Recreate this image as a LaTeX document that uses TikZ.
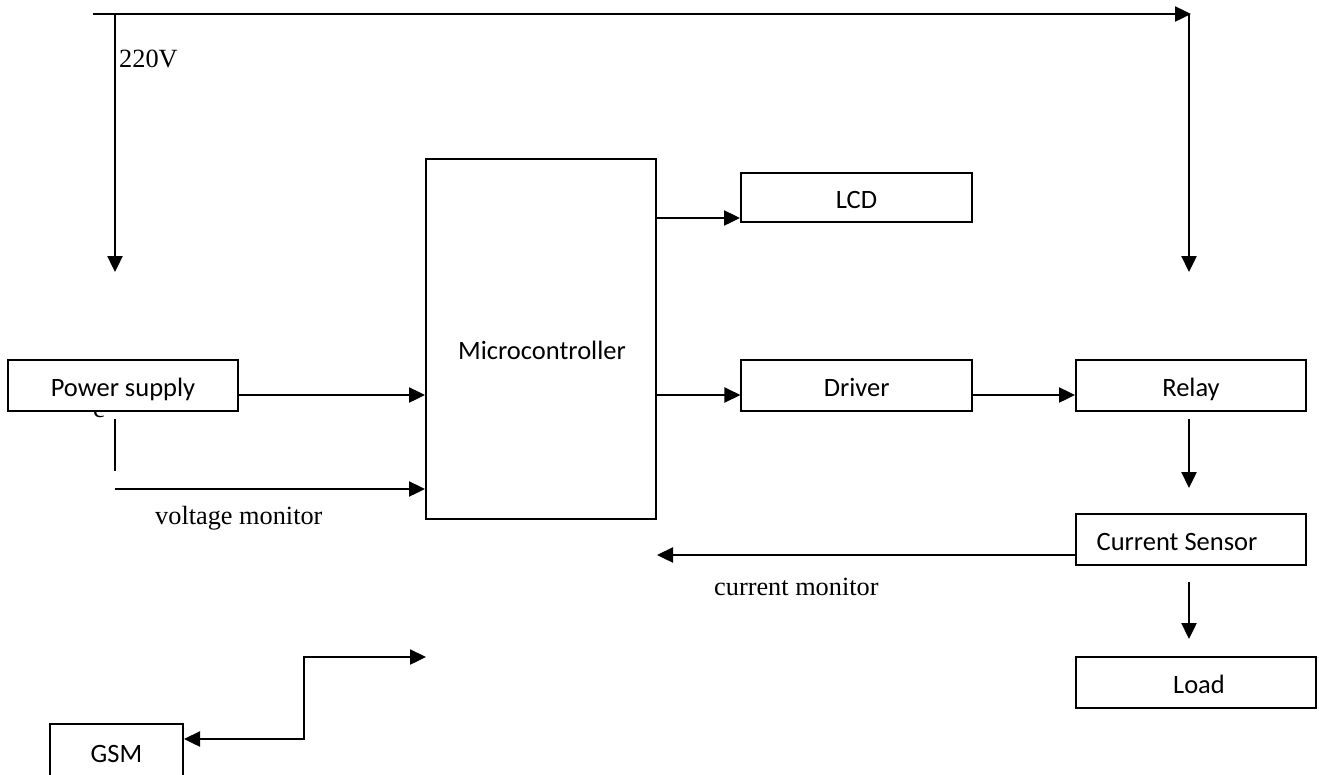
\documentclass[tikz,border=0pt]{standalone}
\usepackage{fontspec}
\setmainfont{Liberation Serif}
\newfontfamily\boxfont{Carlito}
\usetikzlibrary{arrows.meta}
\begin{document}
\begin{tikzpicture}[x=1pt,y=-1pt,
  box/.style={draw, fill=white, line width=2pt, inner sep=0pt,
    font=\boxfont\fontsize{26.5}{30}\selectfont, text height=22pt, text depth=0pt},
  arr/.style={line width=2.4pt, -{Triangle[length=16pt,width=15pt]}},
  darr/.style={line width=2.4pt, {Triangle[length=16pt,width=15pt]}-{Triangle[length=16pt,width=15pt]}},
  ln/.style={line width=2.4pt},
  lbl/.style={font=\fontsize{26.3}{30}\selectfont, inner sep=0pt, anchor=base west}]
\useasboundingbox (0,0) rectangle (1319,774);

% stray glyph under the power supply box
\node[lbl] (cmark) at (93,417) {c};

% boxes
\node[box, minimum width=230pt, minimum height=51pt] (ps) at (123,385.5) {Power supply};
\node[box, minimum width=230pt, minimum height=360pt] (mc) at (541,339) {};
\node[font=\boxfont\fontsize{26.5}{30}\selectfont, inner sep=0pt, anchor=base] (mctext) at (542,359) {Microcontroller};
\node[box, minimum width=231pt, minimum height=49pt] (lcd) at (856.5,197.5) {LCD};
\node[box, minimum width=230.5pt, minimum height=50.7pt] (drv) at (856.7,385.3) {Driver};
\node[box, minimum width=230pt, minimum height=51pt] (relay) at (1191,385.3) {Relay};
\node[box, minimum width=230pt, minimum height=51pt] (cs) at (1191,539.5) {Current Sensor\kern28pt};
\node[box, minimum width=240pt, minimum height=51pt] (load) at (1196,682.5) {\kern6pt Load};
\node[box, minimum width=133pt, minimum height=54pt] (gsm) at (116.5,751) {GSM};

% labels
\node[lbl] (v220) at (119,67) {220V};
\node[lbl] (vmon) at (155,524) {voltage monitor};
\node[lbl] (cmon) at (714,595) {current monitor};

% coordinates for free ends
\coordinate (t0) at (93,14);
\coordinate (tR) at (1191,14);
\coordinate (tL) at (115,14);
\coordinate (dL) at (115,272);
\coordinate (tR2) at (1189,14);
\coordinate (dR) at (1189,272);
\coordinate (row) at (0,395);
\coordinate (lcdrow) at (0,218);
\coordinate (vm1) at (115,419);
\coordinate (vm2) at (115,471);
\coordinate (vm3) at (115,489);
\coordinate (cmrow) at (0,555);
\coordinate (r1) at (1189,419);
\coordinate (r2) at (1189,488);
\coordinate (c1) at (1189,582);
\coordinate (c2) at (1189,639);
\coordinate (g1) at (304,739);
\coordinate (g2) at (304,657);
\coordinate (g3) at (426,657);

% mains line
\draw[arr] (t0) -- (tR);
\draw[arr] (tL) -- (dL);
\draw[arr] (tR2) -- (dR);

% signal connectors
\draw[arr] (ps.east |- row) -- (mc.west |- row);
\draw[ln] (vm1) -- (vm2);
\draw[arr] (vm3) -- (mc.west |- vm3);
\draw[arr] (mc.east |- lcdrow) -- (lcd.west |- lcdrow);
\draw[arr] (mc.east |- row) -- (drv.west |- row);
\draw[arr] (drv.east |- row) -- (relay.west |- row);
\draw[arr] (r1) -- (r2);
\draw[arr] (cs.west |- cmrow) -- (mc.east |- cmrow);
\draw[arr] (c1) -- (c2);
\draw[darr] (gsm.east |- g1) -- (g1) -- (g2) -- (g3);
\end{tikzpicture}
\end{document}
